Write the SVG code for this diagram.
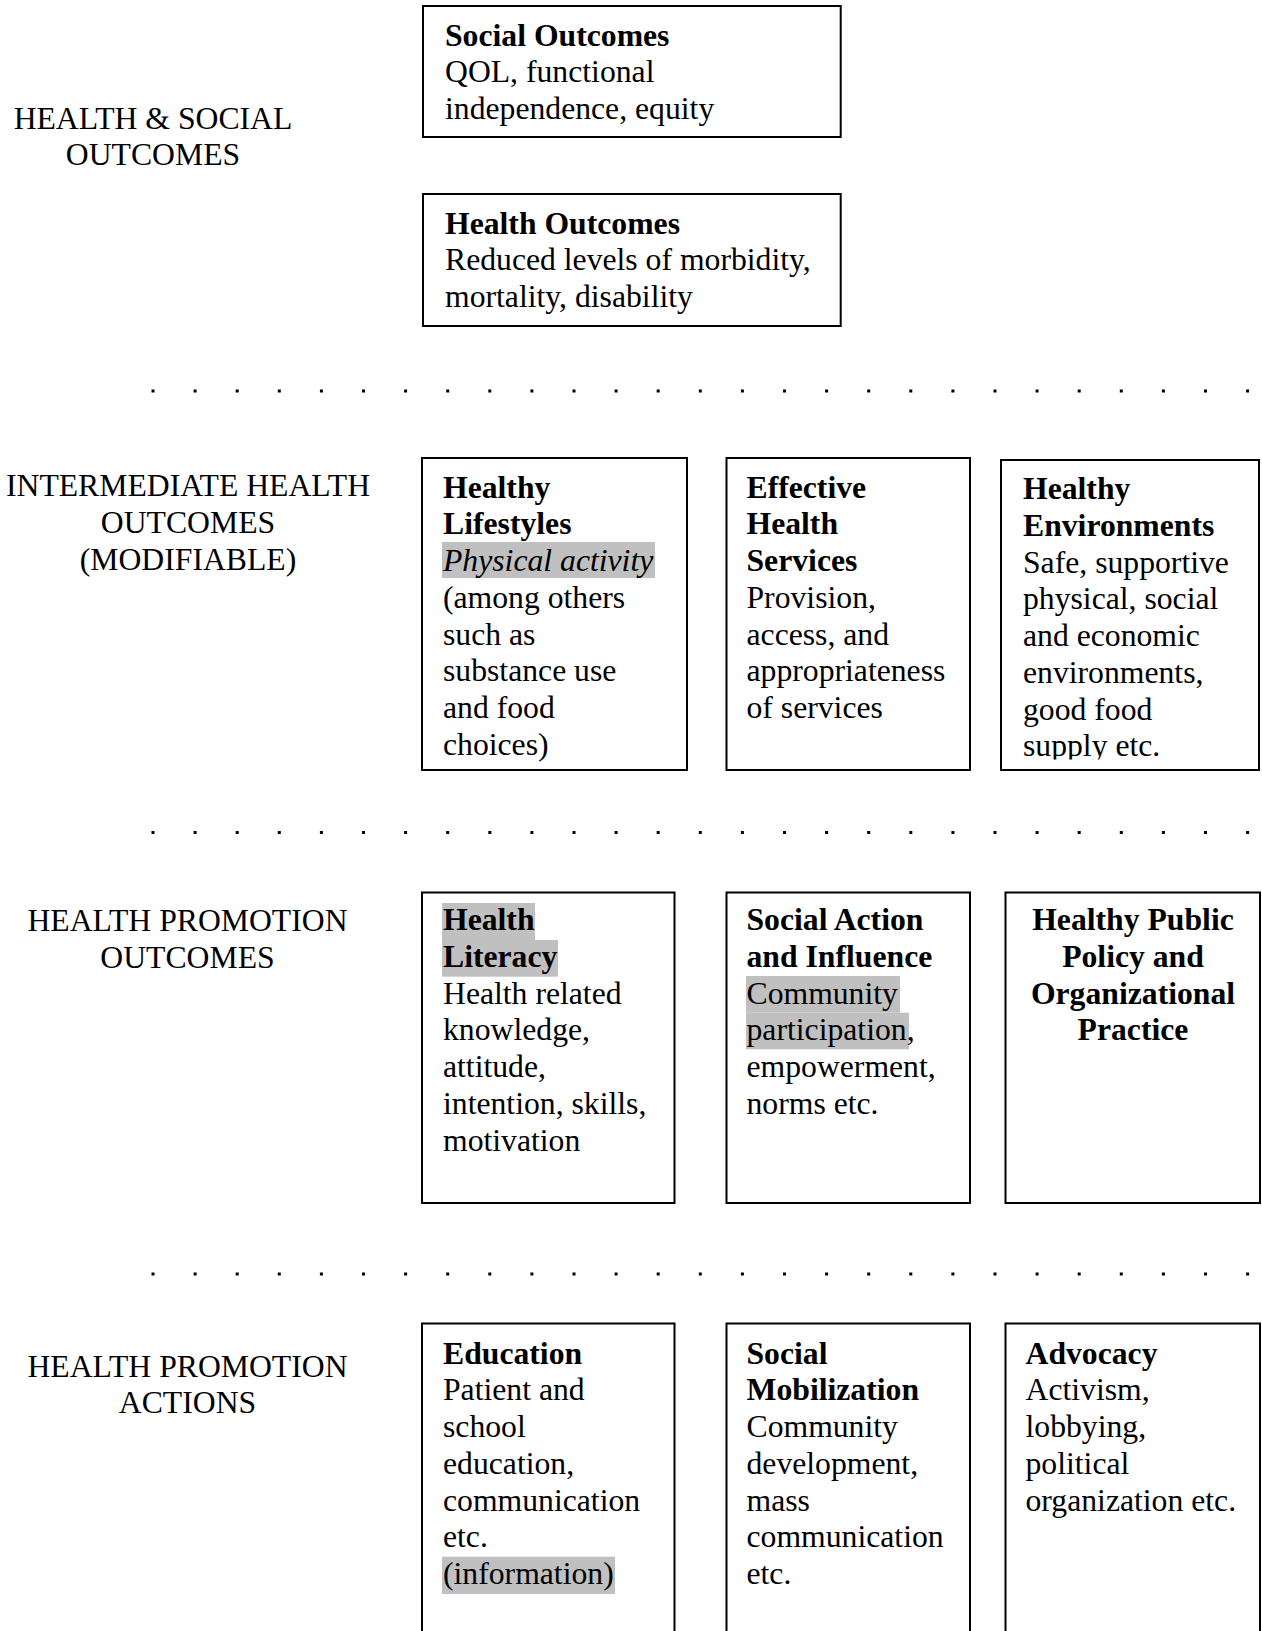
<svg xmlns="http://www.w3.org/2000/svg" width="1262" height="1631" viewBox="0 0 1262 1631">
<style>
text { font-family: "Liberation Serif", "Times New Roman", serif; font-size: 31.7px; fill: #000; }
.b { font-weight: bold; }
.i { font-style: italic; }
.c { text-anchor: middle; }
.box { fill: none; stroke: #000; stroke-width: 2; }
.hl { fill: #c0c0c0; }
.dots { stroke: #000; stroke-width: 3; stroke-dasharray: 3 39.1; fill: none; }
</style>
<defs>
<clipPath id="clipEnv"><rect x="1001" y="460" width="258" height="299.5"/></clipPath>
</defs>
<rect width="1262" height="1631" fill="#fff"/>

<g id="labels">
<text class="c" x="153" y="128.8">HEALTH &amp; SOCIAL</text>
<text class="c" x="153" y="165">OUTCOMES</text>
<text class="c" x="188" y="495.5">INTERMEDIATE HEALTH</text>
<text class="c" x="188" y="532.5">OUTCOMES</text>
<text class="c" x="188" y="569.5">(MODIFIABLE)</text>
<text class="c" x="187.5" y="930.5">HEALTH PROMOTION</text>
<text class="c" x="187.5" y="967.5">OUTCOMES</text>
<text class="c" x="187.5" y="1377">HEALTH PROMOTION</text>
<text class="c" x="187.5" y="1413">ACTIONS</text>
</g>

<g id="separators">
<line class="dots" x1="151.5" y1="391" x2="1252" y2="391"/>
<line class="dots" x1="151.5" y1="832.5" x2="1252" y2="832.5"/>
<line class="dots" x1="151.5" y1="1274" x2="1252" y2="1274"/>
</g>

<g id="social-outcomes">
<rect class="box" x="423" y="6" width="417.7" height="131"/>
<text class="b" x="445" y="45.5">Social Outcomes</text>
<text x="445" y="82.3">QOL, functional</text>
<text x="445" y="119">independence, equity</text>
</g>

<g id="health-outcomes">
<rect class="box" x="423" y="194" width="417.7" height="132"/>
<text class="b" x="445" y="233.5">Health Outcomes</text>
<text x="445" y="270">Reduced levels of morbidity,</text>
<text x="445" y="306.5">mortality, disability</text>
</g>

<g id="healthy-lifestyles">
<rect class="box" x="422" y="458" width="265" height="312"/>
<rect class="hl" x="442" y="542" width="213" height="36"/>
<text class="b" x="443" y="497.5">Healthy</text>
<text class="b" x="443" y="534.3">Lifestyles</text>
<text class="i" x="443" y="571">Physical activity</text>
<text x="443" y="607.8">(among others</text>
<text x="443" y="644.5">such as</text>
<text x="443" y="681.3">substance use</text>
<text x="443" y="718">and food</text>
<text x="443" y="754.8">choices)</text>
</g>

<g id="effective-health-services">
<rect class="box" x="726.5" y="458" width="243.5" height="312"/>
<text class="b" x="746.5" y="497.5">Effective</text>
<text class="b" x="746.5" y="534.3">Health</text>
<text class="b" x="746.5" y="571">Services</text>
<text x="746.5" y="607.8">Provision,</text>
<text x="746.5" y="644.5">access, and</text>
<text x="746.5" y="681.3">appropriateness</text>
<text x="746.5" y="718">of services</text>
</g>

<g id="healthy-environments">
<rect class="box" x="1001" y="460" width="258" height="310"/>
<g clip-path="url(#clipEnv)">
<text class="b" x="1023" y="499">Healthy</text>
<text class="b" x="1023" y="535.8">Environments</text>
<text x="1023" y="572.5">Safe, supportive</text>
<text x="1023" y="609.3">physical, social</text>
<text x="1023" y="646">and economic</text>
<text x="1023" y="682.8">environments,</text>
<text x="1023" y="719.5">good food</text>
<text x="1023" y="756.3">supply etc.</text>
</g>
</g>

<g id="health-literacy">
<rect class="box" x="422" y="892.5" width="252.5" height="310.5"/>
<rect class="hl" x="442" y="903" width="93" height="37"/>
<rect class="hl" x="442" y="940" width="116" height="36.7"/>
<text class="b" x="443" y="930">Health</text>
<text class="b" x="443" y="966.8">Literacy</text>
<text x="443" y="1003.5">Health related</text>
<text x="443" y="1040.3">knowledge,</text>
<text x="443" y="1077">attitude,</text>
<text x="443" y="1113.8">intention, skills,</text>
<text x="443" y="1150.5">motivation</text>
</g>

<g id="social-action">
<rect class="box" x="726.5" y="892.5" width="243.5" height="310.5"/>
<rect class="hl" x="746" y="976" width="154" height="36.7"/>
<rect class="hl" x="746" y="1012.7" width="163" height="36.6"/>
<text class="b" x="746.5" y="930">Social Action</text>
<text class="b" x="746.5" y="966.8">and Influence</text>
<text x="746.5" y="1003.5">Community</text>
<text x="746.5" y="1040.3">participation,</text>
<text x="746.5" y="1077">empowerment,</text>
<text x="746.5" y="1113.8">norms etc.</text>
</g>

<g id="healthy-public-policy">
<rect class="box" x="1005.5" y="892.5" width="254.5" height="310.5"/>
<text class="b c" x="1133" y="930">Healthy Public</text>
<text class="b c" x="1133" y="966.8">Policy and</text>
<text class="b c" x="1133" y="1003.5">Organizational</text>
<text class="b c" x="1133" y="1040.3">Practice</text>
</g>

<g id="education">
<rect class="box" x="422" y="1323.5" width="252.5" height="400"/>
<rect class="hl" x="442" y="1556.7" width="173" height="37.3"/>
<text class="b" x="443" y="1363.5">Education</text>
<text x="443" y="1400.3">Patient and</text>
<text x="443" y="1437">school</text>
<text x="443" y="1473.8">education,</text>
<text x="443" y="1510.5">communication</text>
<text x="443" y="1547.3">etc.</text>
<text x="443" y="1584">(information)</text>
</g>

<g id="social-mobilization">
<rect class="box" x="726.5" y="1323.5" width="243.5" height="400"/>
<text class="b" x="746.5" y="1363.5">Social</text>
<text class="b" x="746.5" y="1400.3">Mobilization</text>
<text x="746.5" y="1437">Community</text>
<text x="746.5" y="1473.8">development,</text>
<text x="746.5" y="1510.5">mass</text>
<text x="746.5" y="1547.3">communication</text>
<text x="746.5" y="1584">etc.</text>
</g>

<g id="advocacy">
<rect class="box" x="1005.5" y="1323.5" width="254.5" height="400"/>
<text class="b" x="1025.5" y="1363.5">Advocacy</text>
<text x="1025.5" y="1400.3">Activism,</text>
<text x="1025.5" y="1437">lobbying,</text>
<text x="1025.5" y="1473.8">political</text>
<text x="1025.5" y="1510.5">organization etc.</text>
</g>
</svg>
